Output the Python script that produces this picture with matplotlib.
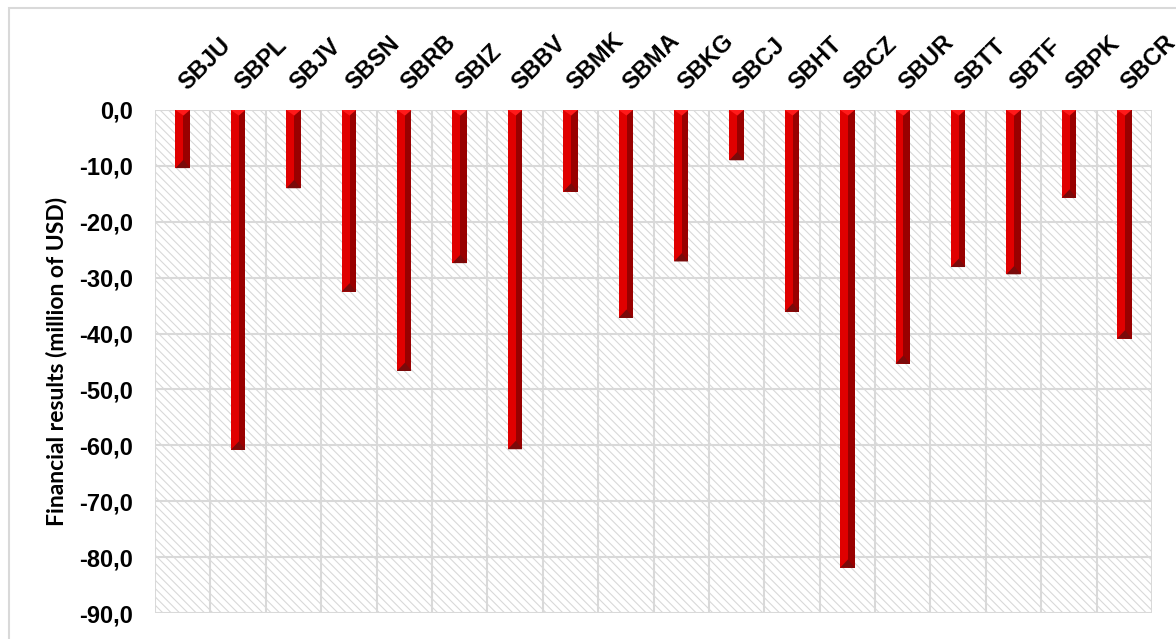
import matplotlib
matplotlib.use("Agg")
import matplotlib.pyplot as plt
import matplotlib.transforms as mtransforms
import numpy as np
from matplotlib.patches import Rectangle, Polygon

categories = ["SBJU", "SBPL", "SBJV", "SBSN", "SBRB", "SBIZ", "SBBV", "SBMK", "SBMA",
              "SBKG", "SBCJ", "SBHT", "SBCZ", "SBUR", "SBTT", "SBTF", "SBPK", "SBCR"]
values = [-10.4, -60.8, -14.0, -32.5, -46.7, -27.4, -60.7, -14.6, -37.2,
          -27.1, -9.0, -36.1, -81.9, -45.4, -28.1, -29.4, -15.7, -40.9]
yticks = [0, -10, -20, -30, -40, -50, -60, -70, -80, -90]
ytick_labels = ["0,0", "-10,0", "-20,0", "-30,0", "-40,0", "-50,0", "-60,0", "-70,0", "-80,0", "-90,0"]
ylabel = "Financial results (million of USD)"

plt.rcParams['font.family'] = ['Liberation Sans', 'DejaVu Sans']
plt.rcParams['hatch.linewidth'] = 0.8
plt.rcParams['hatch.color'] = '#d9d9d9'

fig = plt.figure(figsize=(11.76, 6.39), dpi=100)
# outer chart border
fig.patches.append(Rectangle((9/1176, -0.1), 1.2, 1 - 8/639 + 0.1, transform=fig.transFigure,
                             fill=False, edgecolor='#d9d9d9', lw=1.5))
ax = fig.add_axes([155/1176, 1 - 613/639, (1152-155)/1176, (613-110)/639])

n = len(categories)
x = np.arange(n)
ax.set_xlim(-0.5, n - 0.5)
ax.set_ylim(-90, 0)

# hatched background
ax.add_patch(Rectangle((0, 0), 1, 1, transform=ax.transAxes, facecolor='white',
                       edgecolor='#d9d9d9', hatch='\\' * 4, lw=0, zorder=0))

# grid
for yv in yticks:
    ax.axhline(yv, color='#d9d9d9', lw=1.5, zorder=1)
for xv in np.arange(-0.5, n, 1.0):
    ax.axvline(xv, color='#d9d9d9', lw=1.5, zorder=1)

w = 0.26
fl = 0.55
ax.bar(x - w/2, values, width=w*fl, align='edge', color='#e00000', zorder=3, lw=0)
ax.bar(x - w/2 + w*fl, values, width=w*(1-fl), align='edge', color='#990000', zorder=3, lw=0)
for xi, v in zip(x, values):
    ax.add_patch(Polygon([(xi - w/2, 0), (xi + w/2, 0), (xi - w/2 + w*fl, -1.0)],
                         closed=True, facecolor='#ff1a1a', lw=0, zorder=4))
    ax.add_patch(Polygon([(xi - w/2, v), (xi + w/2, v), (xi - w/2 + w*fl, v + 1.5)],
                         closed=True, facecolor='#7a0a0a', lw=0, zorder=4))

for s in ax.spines.values():
    s.set_visible(False)

ax.set_yticks(yticks)
ax.set_yticklabels(ytick_labels, fontsize=17, fontweight='bold')
ax.tick_params(axis='y', length=0, pad=16)
ax.xaxis.tick_top()
ax.set_xticks(x)
ax.set_xticklabels(categories, fontsize=17, fontweight='bold', rotation=45,
                   ha='left', va='baseline', rotation_mode='anchor')
ax.tick_params(axis='x', length=0, pad=14)
off = mtransforms.ScaledTranslation(5/100, 0, fig.dpi_scale_trans)
for lbl in ax.get_xticklabels():
    lbl.set_transform(lbl.get_transform() + off)
ax.set_ylabel(ylabel, fontsize=16.5, fontweight='bold', family=['Lato', 'DejaVu Sans'])
ax.yaxis.set_label_coords(-0.088, 0.5)

fig.savefig("out.png", dpi=100)
